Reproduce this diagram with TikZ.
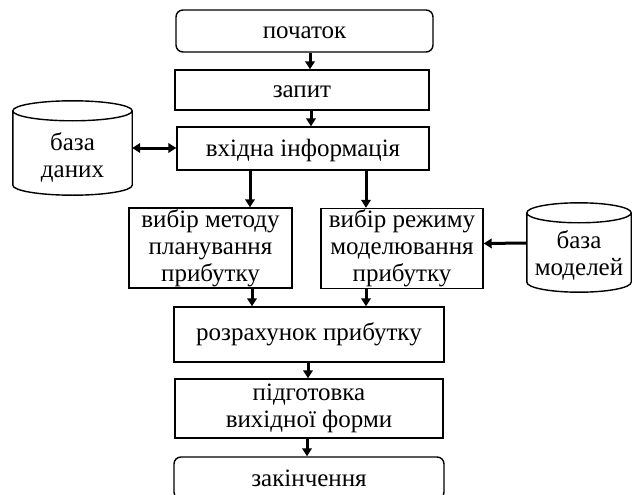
\documentclass[tikz,border=0pt]{standalone}
\usepackage{fontspec}
\setmainfont{Liberation Serif}
\usetikzlibrary{arrows.meta,calc}

\tikzset{
  lbl/.style={inner sep=0pt, align=center, font=\fontsize{25}{27}\selectfont},
  box/.style={lbl, draw, line width=1.4pt},
  term/.style={box, rounded corners=7pt},
  oneline/.style={text height=21pt, text depth=5pt},
  store/.style={inner sep=0pt},
  cylline/.style={line width=1.4pt},
  tip/.tip={Triangle[length=8pt,width=9.5pt]},
  arr/.style={line width=3pt, -tip},
  darr/.style={line width=3pt, tip-tip},
}

% a cylinder (data store) drawn round the rectangle of node #1, #2 = half height of the end ellipses
\newcommand{\storecyl}[2]{%
  \draw[cylline] let \p1=(#1.north west), \p2=(#1.south east) in
    ($(#1.north)+(0,-#2)$) ellipse [x radius={(\x2-\x1)/2}, y radius=#2pt]
    ($(#1.north west)+(0,-#2)$) -- ($(#1.south west)+(0,#2)$)
      arc [start angle=180, end angle=360, x radius={(\x2-\x1)/2}, y radius=#2pt]
      -- ($(#1.north east)+(0,-#2)$);
}

\begin{document}
\begin{tikzpicture}[x=1pt, y=1pt]
  \clip (0,0) rectangle (632,-495);
  \fill[white] (0,0) rectangle (632,-495);

  % main column
  \node[term, oneline, minimum width=257, minimum height=42] (start) at (304.5,-31) {початок};
  \node[box,  oneline, minimum width=254, minimum height=40] (query) at (302,-90) {запит};
  \node[box,  oneline, minimum width=252, minimum height=43] (input) at (303,-148.5) {вхідна інформація};

  % two choice blocks
  \node[box, minimum width=163, minimum height=80] (method) at (210.5,-248)
    {вибір методу\\планування\\прибутку};
  \node[box, minimum width=162, minimum height=80] (mode) at (402,-248.5)
    {вибір режиму\\моделювання\\прибутку};

  \node[box,  minimum width=270, minimum height=55] (calc) at (309,-334.5) {розрахунок прибутку};
  \node[box,  minimum width=268, minimum height=59] (prep) at (309,-408.5) {підготовка\\вихідної форми};
  \node[term, minimum width=270, minimum height=42] (finish) at (309,-478) {закінчення};

  % data stores: body outline, then the caption set in the body below the lid
  \node[store, minimum width=119, minimum height=94] (db) at (72.5,-148) {};
  \storecyl{db}{10}
  \node[lbl] (dbtext) at ($(db.center)+(0,-9)$) {база\\даних};
  \node[store, minimum width=104, minimum height=89] (mdb) at (579,-247.5) {};
  \storecyl{mdb}{10}
  \node[lbl] (mdbtext) at ($(mdb.center)+(0,-8)$) {база\\моделей};

  % connectors
  \draw[arr] ([xshift=5.5pt]start.south) -- ([xshift=8pt]query.north);
  \draw[arr] ([xshift=9pt]query.south) -- ([xshift=8pt]input.north);
  \draw[darr] (db.east) -- (db.east -| input.west);
  \draw[arr] ([xshift=-53pt]input.south) -- ([xshift=39.5pt]method.north);
  \draw[arr] ([xshift=63pt]input.south) -- ([xshift=-36pt]mode.north);
  \draw[arr] ([yshift=4.5pt]mdb.west) -- ([yshift=5pt]mode.east);
  \draw[arr] ([xshift=41.5pt]method.south) -- ([xshift=-57pt]calc.north);
  \draw[arr] ([xshift=-36pt]mode.south) -- ([xshift=57pt]calc.north);
  \draw[arr] ([xshift=-1pt]calc.south) -- ([xshift=-1pt]prep.north);
  \draw[arr] ([xshift=-2pt]prep.south) -- ([xshift=-2pt]finish.north);
\end{tikzpicture}
\end{document}
